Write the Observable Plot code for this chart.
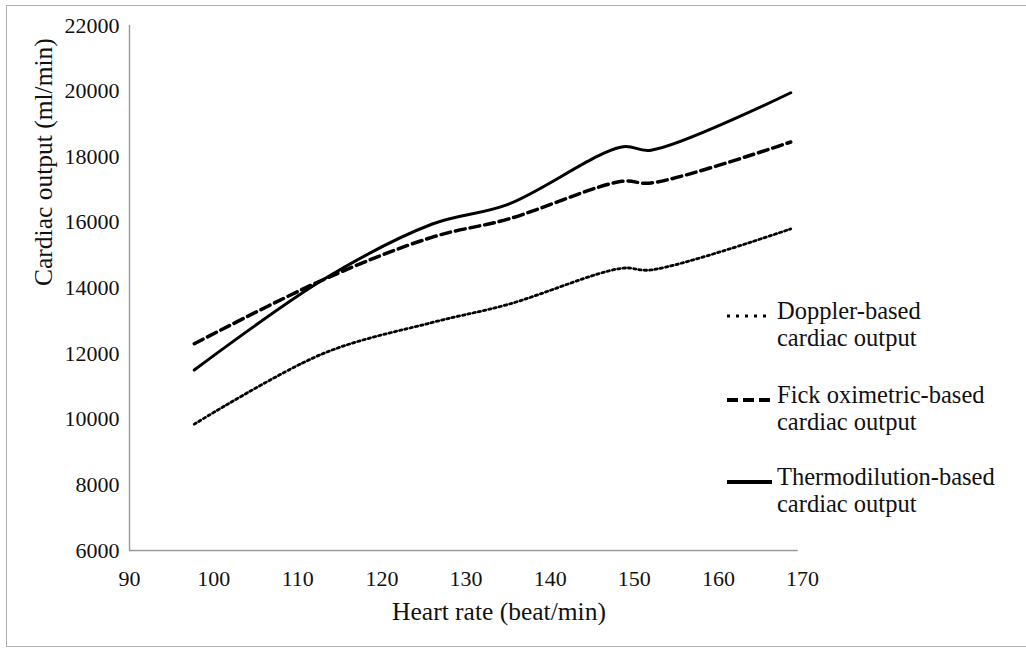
<!DOCTYPE html>
<html>
<head>
<meta charset="utf-8">
<script src="https://cdn.jsdelivr.net/npm/d3@7"></script>
<script src="https://cdn.jsdelivr.net/npm/@observablehq/plot@0.6"></script>
<style>
  html, body { margin: 0; padding: 0; background: #fff; }
  #wrap { position: relative; width: 1026px; height: 650px; overflow: hidden; font-family: "Liberation Serif", "Times New Roman", serif; }
  #frame { position: absolute; left: 6px; top: 5px; width: 1030px; height: 642px; border: 1.5px solid #b0b0b0; box-sizing: border-box; }
  #wrap svg { position: absolute; left: 0; top: 0; }
</style>
</head>
<body>
<div id="wrap"><div id="frame"></div></div>
<script>
// Data
const heartRate = [97.7, 113, 126, 135, 148.5, 152, 168.6];
const dopplerCO = [9850, 12000, 12950, 13500, 14600, 14550, 15800];
const fickCO    = [12300, 14250, 15550, 16100, 17250, 17200, 18450];
const thermoCO  = [11500, 14250, 15950, 16550, 18300, 18200, 19950];
const seriesNames = ["Doppler-based cardiac output", "Fick oximetric-based cardiac output", "Thermodilution-based cardiac output"];
const legendLines = [["Doppler-based", "cardiac output"], ["Fick oximetric-based", "cardiac output"], ["Thermodilution-based", "cardiac output"]];
const xTicks = [90, 100, 110, 120, 130, 140, 150, 160, 170];
const yTicks = [6000, 8000, 10000, 12000, 14000, 16000, 18000, 20000, 22000];

const styles = [
  {strokeWidth: 2.8, strokeDasharray: "2.4,3"},
  {strokeWidth: 3.5, strokeDasharray: "10,5"},
  {strokeWidth: 3, strokeDasharray: null}
];
const allValues = [dopplerCO, fickCO, thermoCO];
const table = allValues.map((vals, i) => heartRate.map((hr, j) => ({hr, co: vals[j], series: seriesNames[i]})));

const font = "Liberation Serif";
const chart = Plot.plot({
  width: 1026, height: 650,
  marginLeft: 129, marginRight: 224, marginTop: 25, marginBottom: 100,
  style: {fontFamily: font, background: "transparent", color: "#111"},
  x: {domain: [90, 170]},
  y: {domain: [6000, 22000]},
  marks: [
    Plot.axisX({ticks: xTicks, tickSize: 0, tickPadding: 20, fontSize: 22, label: null, fill: "#111", tickFormat: d => String(d)}),
    Plot.axisY({ticks: yTicks, tickSize: 0, tickPadding: 10, fontSize: 22, label: null, fill: "#111", tickFormat: d => String(d)}),
    Plot.ruleY([6000], {x1: 90, x2: 169.5, stroke: "#999", strokeWidth: 1.4}),
    Plot.ruleX([90], {y1: 6000, y2: 22000, stroke: "#999", strokeWidth: 1.4}),
    ...table.map((d, i) => Plot.line(d, {x: "hr", y: "co", curve: "catmull-rom", stroke: "#000", ...styles[i]})),
    Plot.text(["Heart rate (beat/min)"], {frameAnchor: "bottom", dx: 33, dy: 61, fontSize: 25.5, lineAnchor: "middle", fill: "#111"}),
    Plot.text(["Cardiac output (ml/min)"], {frameAnchor: "left", dx: -86, dy: -2, rotate: -90, fontSize: 25.5, lineAnchor: "middle", fill: "#111"})
  ]
});
const wrap = document.getElementById("wrap");
wrap.appendChild(chart);

// Legend
const leg = d3.select(wrap).append("svg").attr("width", 1026).attr("height", 650).style("pointer-events", "none");
const legendY = [319, 403, 485];
legendLines.forEach((lines, i) => {
  const y = legendY[i];
  leg.append("line").attr("x1", 727).attr("x2", 772).attr("y1", y - 3).attr("y2", y - 3)
    .attr("stroke", "#000").attr("stroke-width", i === 0 ? 3.2 : 4)
    .attr("stroke-dasharray", i === 0 ? "3,6" : i === 1 ? "11,5" : null);
  lines.forEach((t, k) => {
    leg.append("text").attr("x", 777).attr("y", y + k * 27).attr("font-family", font).attr("font-size", 24.5)
      .attr("fill", "#111").text(t);
  });
});
</script>
</body>
</html>
